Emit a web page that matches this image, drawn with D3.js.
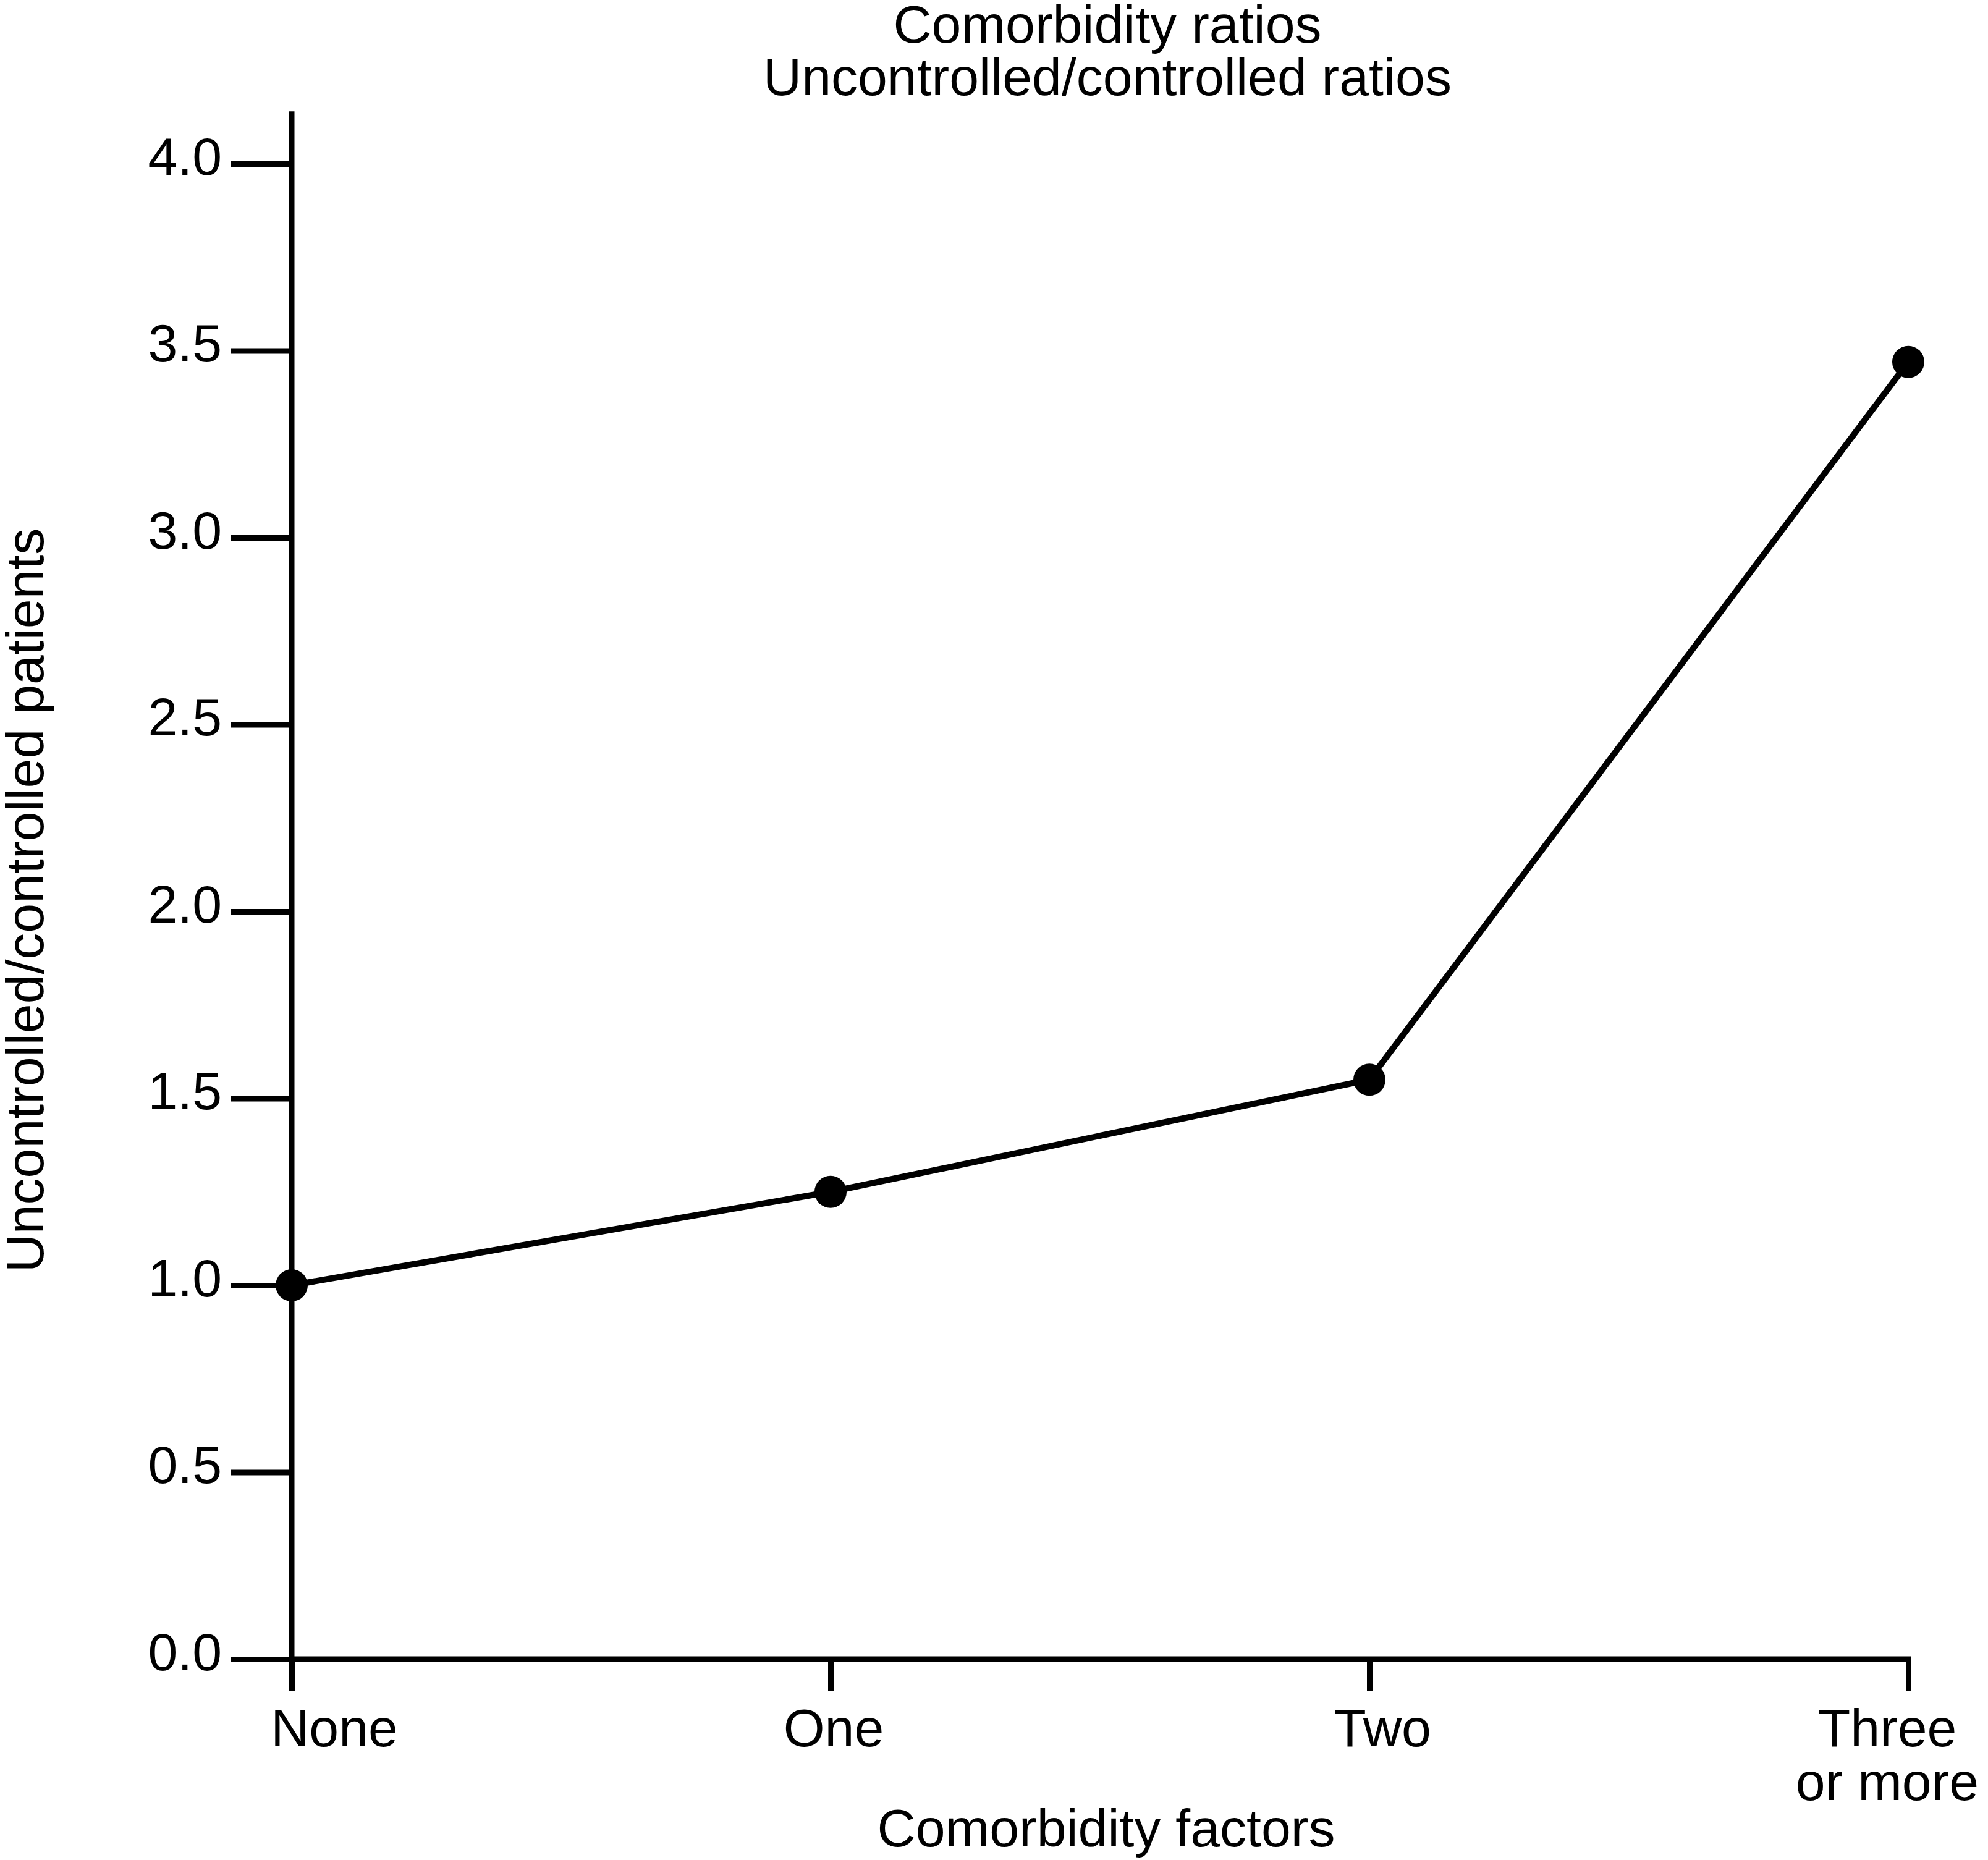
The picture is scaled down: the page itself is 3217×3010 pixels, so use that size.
<!DOCTYPE html>
<html><head><meta charset="utf-8">
<script src="https://cdn.jsdelivr.net/npm/d3@7"></script>
<style>html,body{margin:0;padding:0;background:#fff;} svg{display:block;} text{font-family:"Liberation Sans",Arial,Helvetica,sans-serif;fill:#000;}</style>
</head><body>
<script>
const categories = ["None", "One", "Two", "Three\nor more"];
const ratios = [1.0, 1.25, 1.55, 3.47];
const yTicks = [0, 0.5, 1.0, 1.5, 2.0, 2.5, 3.0, 3.5, 4.0];
const titleLines = ["Comorbidity ratios", "Uncontrolled/controlled ratios"];
const xTitle = "Comorbidity factors";
const yTitle = "Uncontrolled/controlled patients";
const labelDx = [69, 5, 21, -34];

const W = 3217, H = 3010;
const svg = d3.select("body").append("svg").attr("width", W).attr("height", H);

const x = d3.scalePoint().domain(categories).range([472, 3088]);
const y = d3.scaleLinear().domain([0, 4]).range([2685, 265]);
const yAxisMax = 4.14;
const fs = 86, sw = 9;

// y axis
const yAxis = d3.axisLeft(y).tickValues(yTicks).tickSize(99).tickPadding(14)
  .tickFormat(d3.format(".1f"));
const gy = svg.append("g").attr("transform", `translate(${x(categories[0])},0)`).call(yAxis);
gy.select(".domain").remove();
gy.selectAll(".tick line").attr("stroke", "#000").attr("stroke-width", sw);
gy.selectAll(".tick text").attr("font-size", fs).attr("dy", "0.2em")
  .style("font-family", '"Liberation Sans",Arial,sans-serif').attr("fill", "#000");
svg.append("line").attr("x1", x(categories[0])).attr("x2", x(categories[0]))
  .attr("y1", y(0) + 52).attr("y2", y(yAxisMax)).attr("stroke", "#000").attr("stroke-width", sw);

// x axis
const xAxis = d3.axisBottom(x).tickSize(52).tickFormat("");
const gx = svg.append("g").attr("transform", `translate(0,${y(0)})`).call(xAxis);
gx.select(".domain").remove();
gx.selectAll(".tick line").attr("stroke", "#000").attr("stroke-width", sw);
svg.append("line").attr("x1", x(categories[0]) - sw/2).attr("x2", x(categories[3]) + sw/2)
  .attr("y1", y(0)).attr("y2", y(0)).attr("stroke", "#000").attr("stroke-width", sw);

// x labels
categories.forEach((c, i) => {
  const t = svg.append("text").attr("text-anchor", "middle").attr("font-size", fs)
    .attr("transform", `translate(${x(c) + labelDx[i]},${y(0) + 141})`);
  c.split("\n").forEach((ln, j) => {
    t.append("tspan").attr("x", 0).attr("y", j * 87).text(ln);
  });
});

// data line and points
const data = categories.map((c, i) => ({c, v: ratios[i]}));
svg.append("path").datum(data)
  .attr("d", d3.line().x(d => x(d.c)).y(d => y(d.v)))
  .attr("fill", "none").attr("stroke", "#000").attr("stroke-width", 10);
svg.selectAll("circle.pt").data(data).enter().append("circle")
  .attr("cx", d => x(d.c)).attr("cy", d => y(d.v)).attr("r", 26).attr("fill", "#000");

// titles
titleLines.forEach((t, i) => {
  svg.append("text").attr("x", 1792).attr("y", 69 + i * 85).attr("text-anchor", "middle")
    .attr("font-size", fs).text(t);
});
svg.append("text").attr("x", 1790).attr("y", 2988).attr("text-anchor", "middle")
  .attr("font-size", fs).text(xTitle);
svg.append("text").attr("transform", `translate(70,1457) rotate(-90)`).attr("text-anchor", "middle")
  .attr("font-size", fs).text(yTitle);
</script>
</body></html>
